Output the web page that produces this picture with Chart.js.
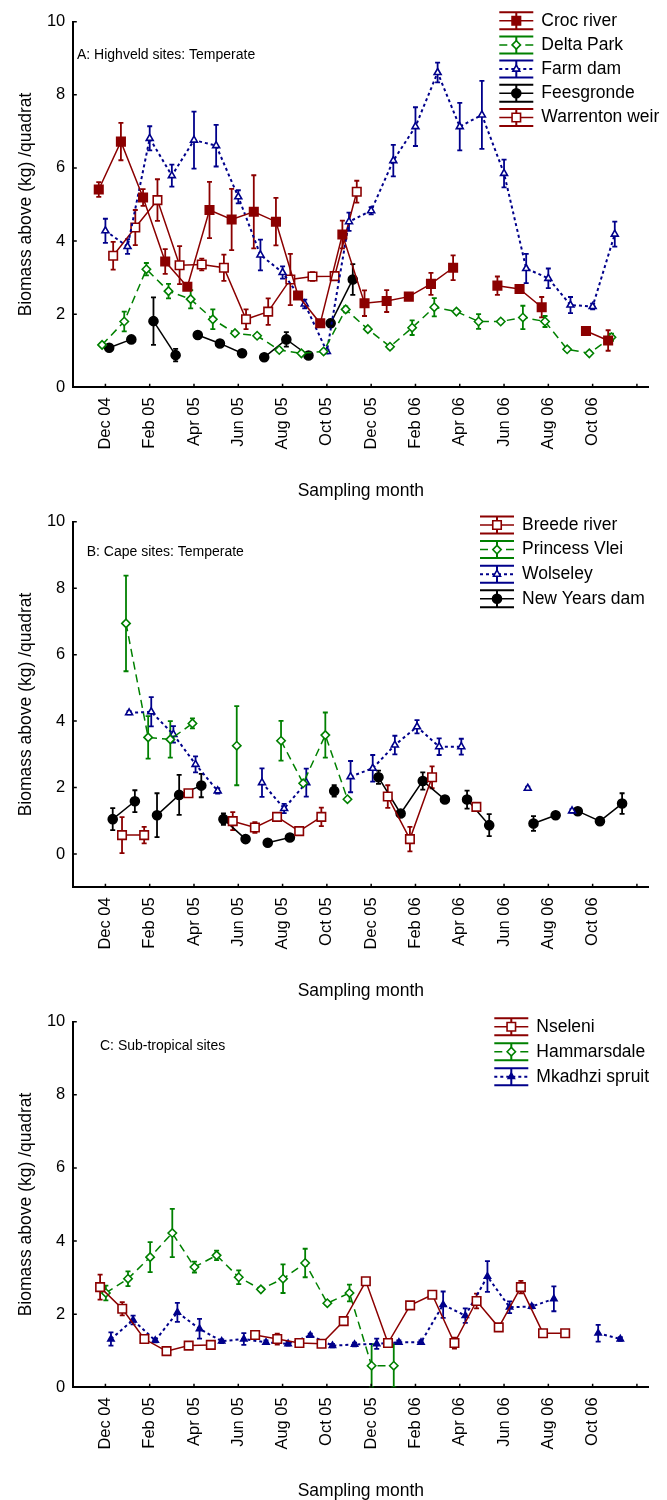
<!DOCTYPE html>
<html>
<head>
<meta charset="utf-8">
<title>Biomass above per quadrat by sampling month</title>
<script src="https://cdn.jsdelivr.net/npm/chart.js@4.4.1/dist/chart.umd.min.js"></script>
<style>
    body { margin: 0; background: #ffffff; }
    canvas { display: block; }
</style>
</head>
<body>
<canvas id="chartA" width="667" height="500"></canvas>
<canvas id="chartB" width="667" height="500"></canvas>
<canvas id="chartC" width="667" height="500"></canvas>
<script>
// months are counted from Dec 04 (= 0), labelled every second month
let monthTicks = [0, 2, 4, 6, 8, 10, 12, 14, 16, 18, 20, 22, 24];
let monthLabels = ["Dec 04", "Feb 05", "Apr 05", "Jun 05", "Aug 05", "Oct 05",
    "Dec 05", "Feb 06", "Apr 06", "Jun 06", "Aug 06", "Oct 06", ""];
let biomassTicks = [0, 2, 4, 6, 8, 10];

// A: Highveld sites (one value per month, null = not sampled)
let crocValues = [5.41, 6.72, 5.19, 3.44, 2.75, 4.85, 4.59, 4.80, 4.53, 2.51, 1.75, 4.18, 2.30, 2.36, 2.48, 2.83, 3.27, null, 2.78, 2.69, 2.19, null, 1.54, 1.28];
let crocErrors = [0.2, 0.51, 0.23, 0.34, 0.08, 0.77, 0.84, 1.0, 0.65, 0.08, 0.08, 0.38, 0.35, 0.3, 0.08, 0.3, 0.34, null, 0.25, 0.08, 0.28, null, 0.05, 0.28];
let crocShift = -0.3;

let deltaValues = [1.16, 1.80, 3.23, 2.63, 2.41, 1.86, 1.48, 1.41, 1.02, 0.93, 0.98, 2.13, 1.59, 1.11, 1.63, 2.19, 2.07, 1.80, 1.80, 1.91, 1.80, 1.04, 0.93, 1.37];
let deltaErrors = [0.05, 0.27, 0.17, 0.2, 0.25, 0.27, 0.05, 0.05, 0.05, 0.05, 0.05, 0.08, 0.05, 0.05, 0.2, 0.25, 0.05, 0.2, 0.05, 0.32, 0.15, 0.05, 0.05, 0.1];
let deltaShift = -0.15;

let farmValues = [4.28, 3.85, 6.81, 5.79, 6.76, 6.61, 5.21, 3.62, 3.14, 2.28, 0.98, 4.53, 4.83, 6.20, 7.13, 8.61, 7.13, 7.45, 5.85, 3.25, 2.98, 2.25, 2.21, 4.19];
let farmErrors = [0.33, 0.2, 0.33, 0.3, 0.78, 0.57, 0.18, 0.42, 0.17, 0.12, 0.05, 0.25, 0.1, 0.43, 0.53, 0.27, 0.65, 0.93, 0.38, 0.4, 0.27, 0.22, 0.08, 0.34];
let farmShift = 0;

let feesValues = [1.08, 1.31, 1.81, 0.88, 1.43, 1.20, 0.93, 0.82, 1.31, 0.87, 1.75, 2.95];
let feesErrors = [0.08, 0.05, 0.65, 0.17, 0.05, 0.05, 0.05, 0.05, 0.2, 0.05, 0.1, 0.42];
let feesBreaks = [1, 3, 6, 9];
let feesShift = 0.17;

let warrentonValues = [3.60, 4.37, 5.12, 3.34, 3.36, 3.27, 1.86, 2.07, 2.95, 3.03, 3.04, 5.35];
let warrentonErrors = [0.38, 0.48, 0.57, 0.52, 0.16, 0.36, 0.27, 0.36, 0.7, 0.12, 0.1, 0.3];
let warrentonShift = 0.35;

// B: Cape sites
let breedeValues = [null, 0.57, 0.57, null, 1.83, null, 0.99, 0.80, 1.12, 0.69, 1.12, null, null, 1.73, 0.45, 2.31, null, 1.42];
let breedeErrors = [null, 0.54, 0.25, null, 0.05, null, 0.27, 0.16, 0.11, 0.05, 0.28, null, null, 0.34, 0.37, 0.33, null, 0.05];
let breedeShift = -0.25;

let princessValues = [null, 6.94, 3.51, 3.45, 3.93, null, 3.26, null, 3.41, 2.13, 3.58, 1.65];
let princessErrors = [null, 1.44, 0.64, 0.55, 0.15, null, 1.19, null, 0.6, 0.05, 0.68, 0.05];
let princessShift = -0.07;

let wolseleyValues = [null, 4.25, 4.28, 3.60, 2.70, 1.90, null, 2.15, 1.37, 2.15, null, 2.33, 2.58, 3.28, 3.83, 3.23, 3.23, null, null, 1.98, null, 1.30];
let wolseleyErrors = [null, 0.05, 0.44, 0.25, 0.24, 0.08, null, 0.43, 0.14, 0.42, null, 0.47, 0.4, 0.28, 0.2, 0.25, 0.24, null, null, 0.05, null, 0.05];
let wolseleyShift = 0.07;

let newYearsValues = [1.05, 1.59, 1.17, 1.78, 2.06, 1.05, 0.45, 0.34, 0.50, null, 1.90, null, 2.31, 1.22, 2.20, 1.64, 1.64, 0.87, null, 0.92, 1.17, 1.29, 0.99, 1.52];
let newYearsErrors = [0.33, 0.33, 0.66, 0.6, 0.35, 0.17, 0.05, 0.03, 0.05, null, 0.17, null, 0.2, 0.05, 0.26, 0.05, 0.27, 0.33, null, 0.22, 0.05, 0.05, 0.05, 0.31];
let newYearsBreaks = [1, 4, 6, 15, 20];
let newYearsShift = 0.33;

// C: Sub-tropical sites
let nseleniValues = [2.74, 2.15, 1.32, 0.99, 1.14, 1.16, null, 1.43, 1.32, 1.21, 1.19, 1.81, 2.90, 1.21, 2.24, 2.53, 1.21, 2.36, 1.64, 2.74, 1.48, 1.48];
let nseleniErrors = [0.34, 0.18, 0.05, 0.05, 0.05, 0.05, null, 0.05, 0.15, 0.05, 0.05, 0.05, 0.05, 0.05, 0.05, 0.05, 0.15, 0.2, 0.05, 0.17, 0.05, 0.08];
let nseleniShift = -0.24;

let hammarsValues = [2.58, 2.97, 3.56, 4.22, 3.29, 3.61, 3.01, 2.68, 2.97, 3.40, 2.30, 2.58, 0.59, 0.59];
let hammarsErrors = [0.2, 0.2, 0.41, 0.66, 0.15, 0.13, 0.19, 0.05, 0.39, 0.39, 0.05, 0.23, 0.59, 0.59];
let hammarsShift = 0.02;

let mkadhziValues = [1.32, 1.84, 1.28, 2.05, 1.60, 1.26, 1.32, 1.23, 1.19, 1.42, 1.14, 1.17, 1.19, 1.23, 1.23, 2.26, 1.96, 3.03, 2.19, 2.21, 2.42, null, 1.48, 1.32];
let mkadhziErrors = [0.18, 0.12, 0.05, 0.26, 0.27, 0.05, 0.16, 0.05, 0.05, 0.05, 0.05, 0.05, 0.14, 0.05, 0.05, 0.36, 0.2, 0.42, 0.16, 0.05, 0.34, null, 0.23, 0.05];
let mkadhziShift = 0.25;

let FONT = "'Liberation Sans', Arial, Helvetica, sans-serif";
let RED = "#8b0000";
let GREEN = "#008000";
let BLUE = "#00008b";
let BLACK = "#000000";

Chart.defaults.font.family = FONT;
Chart.defaults.color = "#000000";

// line + marker looks
let redFilledSquare = { color: RED, marker: "rect", size: 6, filled: true };
let redOpenSquare = { color: RED, marker: "rect", size: 6, filled: false };
let greenDiamond = { color: GREEN, marker: "rectRot", size: 4.2, filled: false, dash: [8, 5] };
let blueTriangle = { color: BLUE, marker: "triangle", size: 4, filled: false, dash: [3, 3], width: 2 };
let blueFilledTriangle = { color: BLUE, marker: "triangle", size: 3.6, filled: true, dash: [3, 3], width: 2 };
let blackCircle = { color: BLACK, marker: "circle", size: 4.5, filled: true };

function makeSeries(label, values, errors, shift, look, breaks) {
    let gaps = breaks || [];
    return {
        label: label,
        data: values.map(function (v, k) { return { x: k + shift, y: v }; }),
        errors: errors,
        borderColor: look.color,
        borderWidth: look.width || 1.5,
        borderDash: look.dash || [],
        pointStyle: look.marker,
        pointRadius: look.size,
        pointBorderWidth: 1.6,
        pointBorderColor: look.color,
        pointBackgroundColor: look.filled ? look.color : "#ffffff",
        spanGaps: false,
        tension: 0,
        fill: false,
        segment: {
            borderColor: function (ctx) {
                return gaps.indexOf(ctx.p0DataIndex) >= 0 ? "rgba(0,0,0,0)" : undefined;
            }
        }
    };
}

// vertical error bars with small caps, drawn under the markers
let errorBars = {
    id: "errorBars",
    beforeDatasetsDraw: function (chart) {
        let ctx = chart.ctx;
        let yScale = chart.scales.y;
        let area = chart.chartArea;
        ctx.save();
        ctx.beginPath();
        ctx.rect(area.left, area.top, area.right - area.left, area.bottom - area.top);
        ctx.clip();
        chart.data.datasets.forEach(function (ds, i) {
            let meta = chart.getDatasetMeta(i);
            ctx.strokeStyle = ds.borderColor;
            ctx.lineWidth = 1.8;
            ctx.setLineDash([]);
            meta.data.forEach(function (pt, j) {
                let v = ds.data[j].y;
                let e = ds.errors[j];
                if (v === null || !e) return;
                let top = yScale.getPixelForValue(v + e);
                let bottom = yScale.getPixelForValue(v - e);
                ctx.beginPath();
                ctx.moveTo(pt.x, top);
                ctx.lineTo(pt.x, bottom);
                ctx.moveTo(pt.x - 2.5, top);
                ctx.lineTo(pt.x + 2.5, top);
                ctx.moveTo(pt.x - 2.5, bottom);
                ctx.lineTo(pt.x + 2.5, bottom);
                ctx.stroke();
            });
        });
        ctx.restore();
    }
};

// legend with error bar symbols, panel note and inward tick marks
let siteLegend = {
    id: "siteLegend",
    afterDraw: function (chart, args, opts) {
        let ctx = chart.ctx;
        let area = chart.chartArea;
        ctx.save();

        // Inward ticks
        ctx.strokeStyle = "#000000";
        ctx.lineWidth = 1.5;
        ctx.beginPath();
        chart.scales.x.ticks.forEach(function (t) {
            let px = chart.scales.x.getPixelForValue(t.value);
            ctx.moveTo(px, area.bottom);
            ctx.lineTo(px, area.bottom - 3.5);
        });
        chart.scales.y.ticks.forEach(function (t) {
            let py = chart.scales.y.getPixelForValue(t.value);
            ctx.moveTo(area.left, py);
            ctx.lineTo(area.left + 3.5, py);
        });
        ctx.stroke();

        // Panel note
        ctx.fillStyle = "#000000";
        ctx.textBaseline = "middle";
        ctx.font = "14px " + FONT;
        ctx.fillText(opts.note, opts.noteX, opts.noteY);

        // Legend rows
        chart.data.datasets.forEach(function (ds, i) {
            let y = opts.y + i * opts.row;
            let x0 = opts.x;
            let x1 = opts.x + 34;
            let xm = x0 + 17;

            ctx.strokeStyle = ds.borderColor;
            ctx.lineWidth = 2;
            ctx.setLineDash([]);
            ctx.beginPath();
            ctx.moveTo(x0, y - 8.5);
            ctx.lineTo(x1, y - 8.5);
            ctx.moveTo(x0, y + 8.5);
            ctx.lineTo(x1, y + 8.5);
            ctx.moveTo(xm, y - 8.5);
            ctx.lineTo(xm, y + 8.5);
            ctx.stroke();

            ctx.lineWidth = ds.borderWidth;
            ctx.setLineDash(ds.borderDash);
            ctx.beginPath();
            ctx.moveTo(x0, y);
            ctx.lineTo(x1, y);
            ctx.stroke();
            ctx.setLineDash([]);

            ctx.fillStyle = ds.pointBackgroundColor;
            ctx.lineWidth = 1.6;
            Chart.helpers.drawPoint(ctx, {
                pointStyle: ds.pointStyle, radius: ds.pointRadius, rotation: 0, borderWidth: 1.6
            }, xm, y);

            ctx.fillStyle = "#000000";
            ctx.font = "17.5px " + FONT;
            ctx.fillText(ds.label, x1 + 8, y);
        });
        ctx.restore();
    }
};

function makePanel(id, datasets, yMin, legendOpts) {
    return new Chart(document.getElementById(id), {
        type: "line",
        data: { datasets: datasets },
        options: {
            responsive: false,
            animation: false,
            devicePixelRatio: 1,
            events: [],
            layout: { padding: { top: 21.7, right: 13.7, left: 0, bottom: 0 } },
            plugins: {
                legend: { display: false },
                tooltip: { enabled: false },
                siteLegend: legendOpts
            },
            scales: {
                x: {
                    type: "linear",
                    min: -1.45,
                    max: 24.52,
                    afterBuildTicks: function (scale) {
                        scale.ticks = monthTicks.map(function (v) { return { value: v }; });
                    },
                    afterFit: function (scale) { scale.height = 112.7; },
                    grid: { display: false, drawTicks: false },
                    border: { display: true, color: "#000000", width: 2 },
                    ticks: {
                        autoSkip: false,
                        minRotation: 90,
                        maxRotation: 90,
                        padding: 10,
                        color: "#000000",
                        font: { size: 16.5 },
                        callback: function (value, index) { return monthLabels[index]; }
                    },
                    title: {
                        display: true,
                        text: "Sampling month",
                        color: "#000000",
                        font: { size: 17.5, lineHeight: 1 },
                        padding: { top: 0, bottom: 0 }
                    }
                },
                y: {
                    min: yMin,
                    max: 10,
                    afterBuildTicks: function (scale) {
                        scale.ticks = biomassTicks.map(function (v) { return { value: v }; });
                    },
                    afterFit: function (scale) { scale.width = 73.3; },
                    grid: { display: false, drawTicks: false },
                    border: { display: true, color: "#000000", width: 2 },
                    ticks: { padding: 8, color: "#000000", font: { size: 16.5 } },
                    title: {
                        display: true,
                        text: "Biomass above (kg) /quadrat",
                        color: "#000000",
                        font: { size: 17.5, lineHeight: 1 },
                        padding: { top: 17, bottom: 0 }
                    }
                }
            }
        },
        plugins: [errorBars, siteLegend]
    });
}

makePanel("chartA", [
    makeSeries("Croc river", crocValues, crocErrors, crocShift, redFilledSquare),
    makeSeries("Delta Park", deltaValues, deltaErrors, deltaShift, greenDiamond),
    makeSeries("Farm dam", farmValues, farmErrors, farmShift, blueTriangle),
    makeSeries("Feesgronde", feesValues, feesErrors, feesShift, blackCircle, feesBreaks),
    makeSeries("Warrenton weir", warrentonValues, warrentonErrors, warrentonShift, redOpenSquare)
], 0, { x: 499.3, y: 20.7, row: 24.2, note: "A: Highveld sites: Temperate", noteX: 77, noteY: 55 });

makePanel("chartB", [
    makeSeries("Breede river", breedeValues, breedeErrors, breedeShift, redOpenSquare),
    makeSeries("Princess Vlei", princessValues, princessErrors, princessShift, greenDiamond),
    makeSeries("Wolseley", wolseleyValues, wolseleyErrors, wolseleyShift, blueTriangle),
    makeSeries("New Years dam", newYearsValues, newYearsErrors, newYearsShift, blackCircle, newYearsBreaks)
], -1, { x: 480, y: 25, row: 24.6, note: "B: Cape sites: Temperate", noteX: 86.7, noteY: 52 });

makePanel("chartC", [
    makeSeries("Nseleni", nseleniValues, nseleniErrors, nseleniShift, redOpenSquare),
    makeSeries("Hammarsdale", hammarsValues, hammarsErrors, hammarsShift, greenDiamond),
    makeSeries("Mkadhzi spruit", mkadhziValues, mkadhziErrors, mkadhziShift, blueFilledTriangle)
], 0, { x: 494.3, y: 26.7, row: 25, note: "C: Sub-tropical sites", noteX: 100, noteY: 46 });
</script>
</body>
</html>
